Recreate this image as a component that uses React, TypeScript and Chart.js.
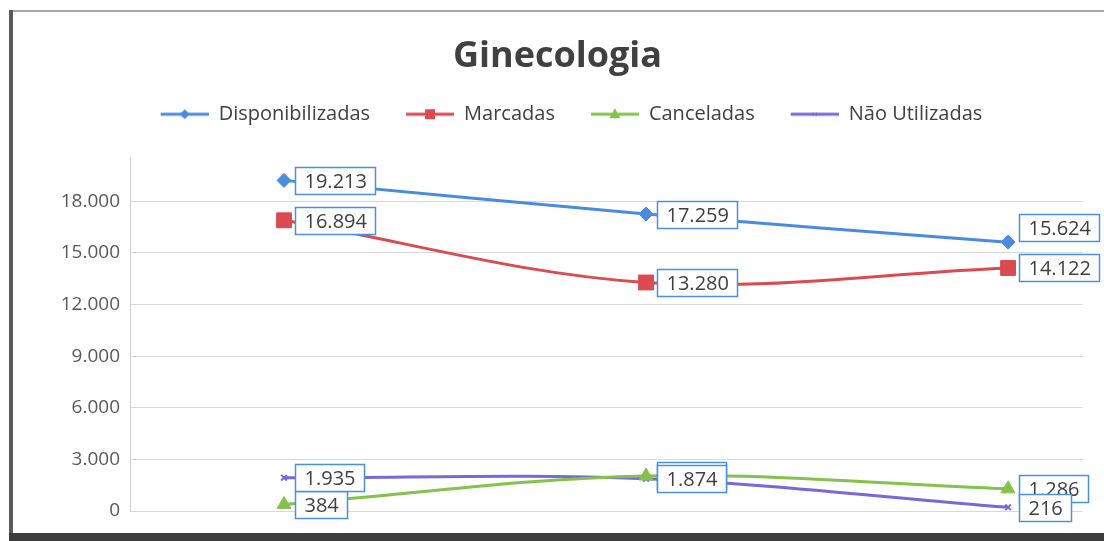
import React, { useEffect, useRef } from "react";
import { Chart, registerables } from "chart.js";

Chart.register(...registerables);

// ---- data ----
const title = "Ginecologia";
const categories = ["Período 1", "Período 2", "Período 3"];
const seriesNames = ["Disponibilizadas", "Marcadas", "Canceladas", "Não Utilizadas"];
const disponibilizadas = [19213, 17259, 15624];
const marcadas = [16894, 13280, 14122];
const canceladas = [384, 2037, 1286];
const naoUtilizadas = [1935, 1874, 216];
const yTicks = [0, 3000, 6000, 9000, 12000, 15000, 18000];

// ---- styles ----
const colors = ["#4A8BE0", "#DA4B52", "#84C24C", "#7A68D8"];
const pointStyles = ["rectRot", "rect", "triangle", "crossRot"];
const pointRadii = [7, 10.5, 8, 4];
const FONT = "'Open Sans', Lato, sans-serif";

const fmt = (v: number) => String(Math.round(v)).replace(/\B(?=(\d{3})+(?!\d))/g, ".");

function legendImage(color: string, style: string): HTMLCanvasElement {
  const c = document.createElement("canvas");
  c.width = 76;
  c.height = 20;
  const g = c.getContext("2d")!;
  g.strokeStyle = color;
  g.fillStyle = color;
  g.lineWidth = 3;
  g.beginPath();
  g.moveTo(28, 10);
  g.lineTo(76, 10);
  g.stroke();
  const cx = 52, cy = 10;
  g.beginPath();
  if (style === "rectRot") {
    g.moveTo(cx, cy - 5); g.lineTo(cx + 5, cy); g.lineTo(cx, cy + 5); g.lineTo(cx - 5, cy); g.closePath(); g.fill();
  } else if (style === "rect") {
    g.fillRect(cx - 5, cy - 5, 10, 10);
  } else if (style === "triangle") {
    g.moveTo(cx, cy - 6); g.lineTo(cx + 5.5, cy + 4); g.lineTo(cx - 5.5, cy + 4); g.closePath(); g.fill();
  } else {
    g.lineWidth = 1;
    g.moveTo(cx - 2, cy - 2); g.lineTo(cx + 2, cy + 2); g.moveTo(cx + 2, cy - 2); g.lineTo(cx - 2, cy + 2); g.stroke();
  }
  return c;
}

const valueLabels = {
  id: "valueLabels",
  afterDatasetsDraw(chart: any, _args: any, opts: any) {
    const ctx = chart.ctx as CanvasRenderingContext2D;
    ctx.save();
    ctx.font = `${opts.fontSize}px ${FONT}`;
    chart.data.datasets.forEach((ds: any, di: number) => {
      const meta = chart.getDatasetMeta(di);
      meta.data.forEach((pt: any, i: number) => {
        const v = ds.data[i].y;
        const text = fmt(v);
        const w = Math.round(ctx.measureText(text).width + 2 * opts.padX);
        const h = opts.boxHeight;
        const shift = opts.shifts[`${di}-${i}`] || 0;
        const x0 = Math.round(pt.x + opts.gap) + 0.5;
        const y0 = Math.round(pt.y + shift - h / 2) + 0.5;
        ctx.fillStyle = "#ffffff";
        ctx.fillRect(x0, y0, w, h);
        ctx.strokeStyle = opts.border;
        ctx.lineWidth = 1.5;
        ctx.strokeRect(x0, y0, w, h);
        ctx.fillStyle = "#404040";
        ctx.textBaseline = "middle";
        ctx.textAlign = "left";
        ctx.fillText(text, x0 + opts.padX, y0 + h / 2 + 1);
      });
    });
    ctx.restore();
  },
};

const frame = {
  id: "frame",
  afterDraw(chart: any) {
    const ctx = chart.ctx as CanvasRenderingContext2D;
    ctx.save();
    ctx.fillStyle = "#a8a8a8";
    ctx.fillRect(10, 10, 1094, 2);
    ctx.fillStyle = "#5a5a5a";
    ctx.fillRect(9, 10, 4, 531);
    ctx.fillStyle = "#3c3c3c";
    ctx.fillRect(9, 533, 1095, 8);
    ctx.restore();
  },
};

export default function App() {
  const ref = useRef<HTMLCanvasElement | null>(null);

  useEffect(() => {
    if (!ref.current) return;
    const values = [disponibilizadas, marcadas, canceladas, naoUtilizadas];
    const images = colors.map((c, i) => legendImage(c, pointStyles[i]));
    const chart = new Chart(ref.current, {
      type: "line",
      data: {
        labels: categories,
        datasets: values.map((vals, di) => ({
          label: seriesNames[di],
          data: vals.map((v, i) => ({ x: i, y: v })),
          borderColor: colors[di],
          backgroundColor: colors[di],
          borderWidth: 3,
          tension: 0.35,
          pointStyle: pointStyles[di] as any,
          pointRadius: pointRadii[di],
          pointBorderWidth: di === 3 ? 2 : 1,
          pointBorderColor: colors[di],
          pointBackgroundColor: colors[di],
          fill: false,
        })),
      },
      options: {
        responsive: false,
        animation: false,
        events: [],
        layout: { padding: { left: 11, right: 0, top: 17, bottom: 30 } },
        scales: {
          x: {
            type: "linear",
            min: -0.4254,
            max: 2.207,
            display: false,
          },
          y: {
            type: "linear",
            min: 0,
            max: 20560,
            afterBuildTicks: (s: any) => {
              s.ticks = yTicks.map((v) => ({ value: v }));
            },
            afterFit: (s: any) => {
              s.width = 119;
            },
            grid: { color: "#d9d9d9", lineWidth: 1, drawTicks: false },
            border: { display: true, color: "#d0d0d0", width: 1 },
            ticks: {
              padding: 10,
              color: "#595959",
              font: { family: FONT, size: 19 },
              callback: (v: any) => fmt(Number(v)),
            },
          },
          y2: {
            type: "linear",
            position: "right",
            display: true,
            grid: { display: false },
            border: { display: false },
            ticks: { display: false },
            afterFit: (s: any) => {
              s.width = 21;
            },
          },
        },
        plugins: {
          title: {
            display: true,
            text: title,
            color: "#404040",
            font: { family: FONT, size: 36, weight: "bold", lineHeight: 1.2 },
            padding: { top: 18, bottom: 18 },
          },
          subtitle: {
            display: true,
            text: " ",
            weight: 500,
            font: { size: 1, lineHeight: 1 },
            padding: { top: 11, bottom: 11 },
          } as any,
          legend: {
            display: true,
            position: "top",
            labels: {
              usePointStyle: true,
              pointStyleWidth: 76,
              boxHeight: 19,
              padding: 8,
              color: "#404040",
              font: { family: FONT, size: 20 },
              generateLabels: (ch: any) =>
                ch.data.datasets.map((ds: any, i: number) => ({
                  text: ds.label,
                  pointStyle: images[i],
                  fillStyle: colors[i],
                  strokeStyle: colors[i],
                  lineWidth: 0,
                  hidden: false,
                  datasetIndex: i,
                  fontColor: "#404040",
                })),
            },
          },
          tooltip: { enabled: false },
          valueLabels: {
            fontSize: 20,
            gap: 11,
            padX: 9,
            boxHeight: 27,
            border: "#4A8FE0",
            shifts: { "0-2": -15 },
          },
        } as any,
      },
      plugins: [valueLabels, frame],
    });
    return () => chart.destroy();
  }, []);

  return (
    <div style={{ position: "fixed", left: 0, top: 0, width: 1104, height: 541, background: "#fff" }}>
      <canvas ref={ref} width={1104} height={541} style={{ display: "block" }} />
    </div>
  );
}
